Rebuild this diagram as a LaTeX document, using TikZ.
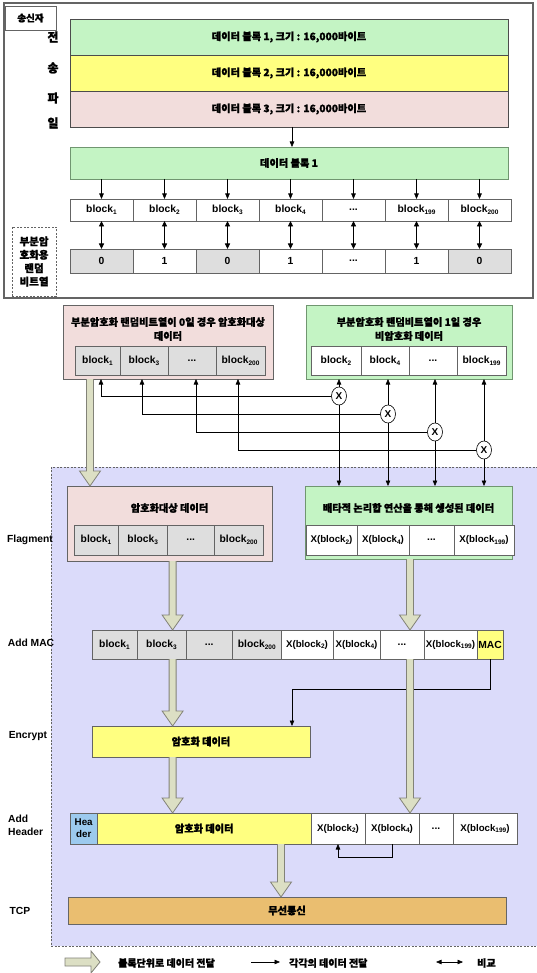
\documentclass[tikz,border=0pt]{standalone}
\usepackage{fontspec}
\setmainfont{Liberation Sans}
\newfontfamily\kr{Noto Sans CJK KR}[BoldFeatures={FakeBold=1.2}]
\usetikzlibrary{arrows.meta,calc,shapes.geometric}
\definecolor{grnF}{RGB}{196,244,196}
\definecolor{grnB}{RGB}{112,150,112}
\definecolor{yelF}{RGB}{255,255,128}
\definecolor{pnkF}{RGB}{242,221,220}
\definecolor{gryF}{RGB}{222,222,222}
\definecolor{lavF}{RGB}{219,219,250}
\definecolor{fatF}{RGB}{220,223,196}
\definecolor{fatB}{RGB}{130,130,120}
\definecolor{hdrF}{RGB}{156,202,238}
\definecolor{tcpF}{RGB}{234,190,112}
\definecolor{bordC}{RGB}{100,100,100}
\newcommand\lowidx[1]{\raisebox{-1.8pt}{\fontsize{6.5}{7}\selectfont #1}}
\newcommand\cellbox[7][]{\node[cellst,#1,minimum width={(#4-#3)*1pt},minimum height={(#6-#5)*1pt}] (#2) at ({(#3+#4)/2},{(#5+#6)/2}) {#7};}
\newcommand\fatv[2]{\path[fatst] let \p1=(#1), \p2=(#2) in
  (\x1-3.5pt,\y1) -- (\x1-3.5pt,\y2+15pt) -- (\x1-10.5pt,\y2+15pt) -- (\x1,\y2) -- (\x1+10.5pt,\y2+15pt) -- (\x1+3.5pt,\y2+15pt) -- (\x1+3.5pt,\y1);}
\newcommand\fath[2]{\path[fatst] let \p1=(#1), \p2=(#2) in
  (\x1,\y1+4pt) -- (\x2-9pt,\y1+4pt) -- (\x2-9pt,\y1+11pt) -- (\x2,\y1) -- (\x2-9pt,\y1-11pt) -- (\x2-9pt,\y1-4pt) -- (\x1,\y1-4pt) -- cycle;}
\tikzset{
  cellst/.style={draw=bordC, line width=0.7pt, inner sep=0pt, outer sep=0pt, font=\bfseries\fontsize{10.3}{12}\selectfont},
  krf/.style={font=\kr\bfseries\fontsize{10.2}{14}\selectfont},
  xf/.style={font=\bfseries\fontsize{9.7}{12}\selectfont},
  arr/.style={-{Triangle[length=5.5pt,width=4.5pt]}, line width=0.6pt, draw=black},
  darr/.style={{Triangle[length=5.5pt,width=5pt]}-{Triangle[length=5.5pt,width=5pt]}, line width=0.9pt},
  fatst/.style={draw=fatB, fill=fatF, line width=0.8pt},
  lbl/.style={inner sep=0pt, font=\bfseries\fontsize{10.3}{13}\selectfont},
  xo/.style={ellipse, draw=black, fill=white, line width=0.6pt, minimum width=15pt, minimum height=18pt, inner sep=0pt, font=\bfseries\fontsize{10}{12}\selectfont},
  dashst/.style={draw=bordC, dash pattern=on 2pt off 1.5pt, line width=0.6pt}
}
\begin{document}
\begin{tikzpicture}[x=1pt,y=-1pt]
\useasboundingbox (0,0) rectangle (536,973);
\fill[white] (0,0) rectangle (536,973);
% lower lavender area
\fill[lavF] (51,467) rectangle (545,946);
\draw[dashst] (545,467) -- (51,467) -- (51,946) -- (545,946);
% upper frame
\draw[draw=bordC, line width=1.2pt] (4,3) rectangle (533,298);
\cellbox[fill=white, font=\kr\bfseries\fontsize{9.5}{11}\selectfont]{sender}{5}{56}{6}{30}{송신자}
\foreach \c/\yy/\nm in {전/37/sa, 송/68/sb, 파/98/sc, 일/123/sd}
  \node[inner sep=0pt, font=\kr\bfseries\fontsize{12}{13}\selectfont] (\nm) at (53,\yy) {\c};
% file blocks
\cellbox[fill=grnF, krf, draw=black!70]{b1}{70}{508}{19}{55}{데이터 블록 1, 크기 : 16,000바이트}
\cellbox[fill=yelF, krf, draw=black!70]{b2}{70}{508}{55}{91}{데이터 블록 2, 크기 : 16,000바이트}
\cellbox[fill=pnkF, krf, draw=black!70]{b3}{70}{508}{91}{127}{데이터 블록 3, 크기 : 16,000바이트}
\cellbox[fill=grnF, krf, draw=grnB]{db}{70}{508}{147}{179}{데이터 블록 1}
\coordinate (v292) at (292,0);
\draw[arr] (b3.south -| v292) -- (db.north -| v292);
% block row and bit row
\cellbox[fill=white]{r1}{70}{133}{199}{221}{block\lowidx{1}}
\cellbox[fill=white]{r2}{133}{196}{199}{221}{block\lowidx{2}}
\cellbox[fill=white]{r3}{196}{259}{199}{221}{block\lowidx{3}}
\cellbox[fill=white]{r4}{259}{322}{199}{221}{block\lowidx{4}}
\cellbox[fill=white]{r5}{322}{385}{199}{221}{...}
\cellbox[fill=white]{r6}{385}{448}{199}{221}{block\lowidx{199}}
\cellbox[fill=white]{r7}{448}{511}{199}{221}{block\lowidx{200}}
\cellbox[fill=gryF]{s1}{70}{133}{249}{273}{0}
\cellbox[fill=white]{s2}{133}{196}{249}{273}{1}
\cellbox[fill=gryF]{s3}{196}{259}{249}{273}{0}
\cellbox[fill=white]{s4}{259}{322}{249}{273}{1}
\cellbox[fill=white]{s5}{322}{385}{249}{273}{...}
\cellbox[fill=white]{s6}{385}{448}{249}{273}{1}
\cellbox[fill=gryF]{s7}{448}{511}{249}{273}{0}
\foreach \i in {1,...,7}{
  \draw[arr] (db.south -| r\i) -- (r\i.north);
  \draw[darr] (r\i.south) -- (s\i.north);
}
\node[dashst, fill=white, minimum width=44pt, minimum height=69pt, inner sep=0pt, align=center,
  font=\kr\bfseries\fontsize{10.5}{13.4}\selectfont] (rbits) at (34,261.5) {부분암\\호화용\\랜덤\\비트열};
% upper split boxes
\cellbox[fill=pnkF]{pu}{63}{273}{305}{379}{}
\node[krf, align=center, inner sep=0pt] (put) at (168,329) {부분암호화 랜덤비트열이 0일 경우 암호화대상\\데이터};
\cellbox[fill=gryF]{pu1}{75}{120}{346}{375}{block\lowidx{1}}
\cellbox[fill=gryF]{pu2}{120}{168}{346}{375}{block\lowidx{3}}
\cellbox[fill=gryF]{pu3}{168}{216}{346}{375}{...}
\cellbox[fill=gryF]{pu4}{216}{265}{346}{375}{block\lowidx{200}}
\cellbox[fill=grnF, draw=grnB]{gu}{306}{512}{305}{379}{}
\node[krf, align=center, inner sep=0pt] (gut) at (409,329) {부분암호화 랜덤비트열이 1일 경우\\비암호화 데이터};
\cellbox[fill=white]{gu1}{311}{361}{346}{375}{block\lowidx{2}}
\cellbox[fill=white]{gu2}{361}{409}{346}{375}{block\lowidx{4}}
\cellbox[fill=white]{gu3}{409}{457}{346}{375}{...}
\cellbox[fill=white]{gu4}{457}{506}{346}{375}{block\lowidx{199}}
% lower split boxes
\cellbox[fill=pnkF]{pl}{67}{272}{486}{561}{}
\node[krf, inner sep=0pt] (plt) at (169.5,508) {암호화대상 데이터};
\cellbox[fill=gryF]{pl1}{74}{118}{525}{555}{block\lowidx{1}}
\cellbox[fill=gryF]{pl2}{118}{167.5}{525}{555}{block\lowidx{3}}
\cellbox[fill=gryF]{pl3}{167.5}{214}{525}{555}{...}
\cellbox[fill=gryF]{pl4}{214}{263}{525}{555}{block\lowidx{200}}
\cellbox[fill=grnF, draw=grnB]{gl}{305}{512}{486}{559}{}
\node[krf, inner sep=0pt] (glt) at (408.5,508) {배타적 논리합 연산을 통해 생성된 데이터};
\cellbox[fill=white, xf]{gl1}{306}{357}{525}{555}{X(block\lowidx{2})}
\cellbox[fill=white, xf]{gl2}{357}{409}{525}{555}{X(block\lowidx{4})}
\cellbox[fill=white]{gl3}{409}{454}{525}{555}{...}
\cellbox[fill=white, xf]{gl4}{454}{514}{525}{555}{X(block\lowidx{199})}
% XOR circles and connectors
\node[xo] (xo1) at (339,396) {X};
\node[xo] (xo2) at (388,414) {X};
\node[xo] (xo3) at (435,432) {X};
\node[xo] (xo4) at (484,450) {X};
\coordinate (h1) at (101,0);
\coordinate (h2) at (142,0);
\coordinate (h3) at (196,0);
\coordinate (h4) at (238,0);
\foreach \i in {1,...,4}{
  \draw[arr] (xo\i.north) -- (gu.south -| xo\i);
  \draw[arr] (xo\i.south) -- (gl.north -| xo\i);
  \draw[arr] (xo\i.west) -- (xo\i.west -| h\i) -- (pu.south -| h\i);
}
% fat arrows column coordinates
\coordinate (fa1) at (90,0);
\coordinate (fa2) at (172.6,0);
\coordinate (fa3) at (410,0);
\coordinate (fa4) at (281,0);
\fatv{pu.south -| fa1}{pl.north -| fa1}
% Add MAC row
\cellbox[fill=gryF]{m1}{92}{137}{630}{659}{block\lowidx{1}}
\cellbox[fill=gryF]{m2}{137}{186}{630}{659}{block\lowidx{3}}
\cellbox[fill=gryF]{m3}{186}{232.5}{630}{659}{...}
\cellbox[fill=gryF]{m4}{232.5}{281}{630}{659}{block\lowidx{200}}
\cellbox[fill=white, xf]{m5}{281}{333}{630}{659}{X(block\lowidx{2})}
\cellbox[fill=white, xf]{m6}{333}{380}{630}{659}{X(block\lowidx{4})}
\cellbox[fill=white]{m7}{380}{424}{630}{659}{...}
\cellbox[fill=white, xf]{m8}{424}{477}{630}{659}{X(block\lowidx{199})}
\cellbox[fill=yelF]{m9}{477}{503}{630}{659}{MAC}
\fatv{pl.south -| fa2}{m2.north -| fa2}
\fatv{gl.south -| fa3}{m7.north -| fa3}
% Encrypt
\cellbox[fill=yelF, krf]{enc}{92}{310}{726}{757}{암호화 데이터}
\fatv{m2.south -| fa2}{enc.north -| fa2}
\coordinate (macturn) at (292,689);
\draw[arr] (m9.south) -- (m9.south |- macturn) -- (macturn) -- (enc.north -| macturn);
% Add Header row
\cellbox[fill=hdrF, align=center, font=\bfseries\fontsize{9.8}{12}\selectfont]{hd0}{70}{97.4}{813}{844}{Hea\\der}
\cellbox[fill=yelF, krf]{hd1}{97.4}{311}{813}{844}{암호화 데이터}
\cellbox[fill=white, xf]{hd2}{311}{365}{813}{844}{X(block\lowidx{2})}
\cellbox[fill=white, xf]{hd3}{365}{419}{813}{844}{X(block\lowidx{4})}
\cellbox[fill=white]{hd4}{419}{453}{813}{844}{...}
\cellbox[fill=white, xf]{hd5}{453}{517}{813}{844}{X(block\lowidx{199})}
\fatv{enc.south -| fa2}{hd1.north -| fa2}
\fatv{m7.south -| fa3}{hd3.north -| fa3}
\draw[arr] (hd3.south) -- ++(0,13) -| (hd2.south);
% TCP
\cellbox[fill=tcpF, krf, draw=black!60]{tcp}{68}{506}{897}{924}{무선통신}
\fatv{hd1.south -| fa4}{tcp.north -| fa4}
% row labels
\node[lbl] (lflag) at (30,540) {Flagment};
\node[lbl] (lmac) at (31,643) {Add MAC};
\node[lbl] (lenc) at (28,736) {Encrypt};
\node[lbl, anchor=west, align=left] (lhdr) at (8,825) {Add\\Header};
\node[lbl] (ltcp) at (20,911) {TCP};
% legend
\coordinate (lg1) at (65,962);
\coordinate (lg2) at (100,962);
\fath{lg1}{lg2}
\node[anchor=west, inner sep=0pt, font=\kr\bfseries\fontsize{10}{12}\selectfont] (lt1) at (118,963) {블록단위로 데이터 전달};
\coordinate (lg3) at (251,962);
\coordinate (lg4) at (280,962);
\draw[arr] (lg3) -- (lg4);
\node[anchor=west, inner sep=0pt, font=\kr\bfseries\fontsize{10}{12}\selectfont] (lt2) at (289,963) {각각의 데이터 전달};
\coordinate (lg5) at (436,962);
\coordinate (lg6) at (463,962);
\draw[arr, {Triangle[length=5.5pt,width=4.5pt]}-{Triangle[length=5.5pt,width=4.5pt]}] (lg5) -- (lg6);
\node[anchor=west, inner sep=0pt, font=\kr\bfseries\fontsize{10}{12}\selectfont] (lt3) at (477,963) {비교};
\end{tikzpicture}
\end{document}
